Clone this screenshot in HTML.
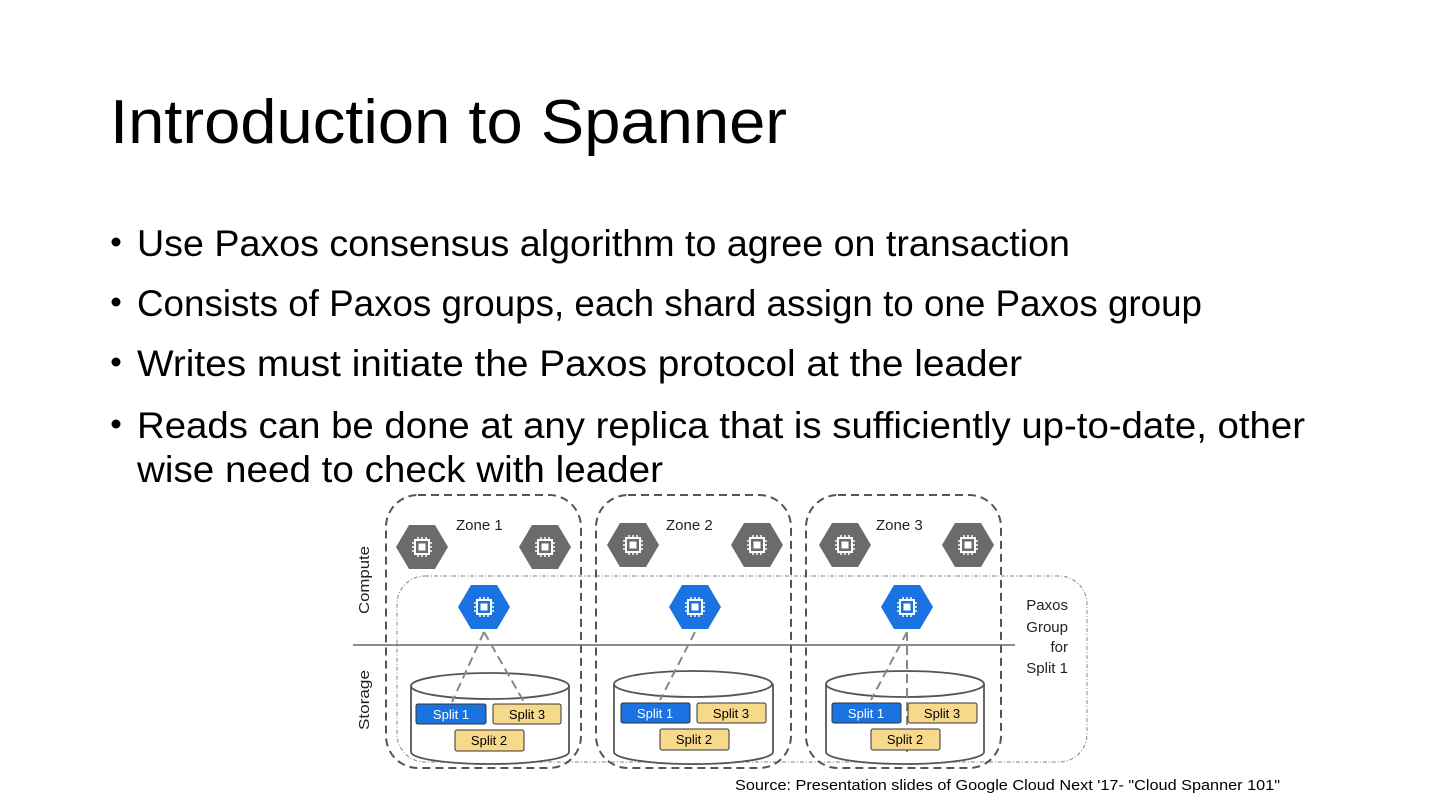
<!DOCTYPE html>
<html><head><meta charset="utf-8"><style>
html,body{margin:0;padding:0;background:#fff;}
svg{display:block;}
</style></head><body>
<svg width="1440" height="810" viewBox="0 0 1440 810" xmlns="http://www.w3.org/2000/svg">
<defs>
<g id="chip">
  <rect x="-7" y="-7" width="14" height="14" fill="none" stroke="#fff" stroke-width="2"/>
  <rect x="-3.5" y="-3.5" width="7" height="7" fill="#fff"/>
  <path d="M-4,-10V-7M0,-10V-7M4,-10V-7M-4,7V10M0,7V10M4,7V10M-10,-4H-7M-10,0H-7M-10,4H-7M7,-4H10M7,0H10M7,4H10" stroke="#fff" stroke-width="1.5"/>
</g>
<g id="hexg"><polygon points="-26,0 -13,-22 13,-22 26,0 13,22 -13,22" fill="#6b6b6b"/><use href="#chip"/></g>
<g id="hexb"><polygon points="-26,0 -13,-22 13,-22 26,0 13,22 -13,22" fill="#1a73e0"/><use href="#chip"/></g>
</defs>

<text x="110" y="143" font-family="Liberation Sans, sans-serif" font-size="62" fill="#000" textLength="677" lengthAdjust="spacingAndGlyphs">Introduction to Spanner</text>

<g font-family="Liberation Sans, sans-serif" font-size="37" fill="#000">
<circle cx="116" cy="242" r="4.5"/>
<text x="137" y="256" textLength="933" lengthAdjust="spacingAndGlyphs">Use Paxos consensus algorithm to agree on transaction</text>
<circle cx="116" cy="302" r="4.5"/>
<text x="137" y="316" textLength="1065" lengthAdjust="spacingAndGlyphs">Consists of Paxos groups, each shard assign to one Paxos group</text>
<circle cx="116" cy="362" r="4.5"/>
<text x="137" y="376" textLength="885" lengthAdjust="spacingAndGlyphs">Writes must initiate the Paxos protocol at the leader</text>
<circle cx="116" cy="424" r="4.5"/>
<text x="137" y="438" textLength="1168" lengthAdjust="spacingAndGlyphs">Reads can be done at any replica that is sufficiently up-to-date, other</text>
<text x="137" y="482" textLength="526" lengthAdjust="spacingAndGlyphs">wise need to check with leader</text>
</g>

<rect x="397" y="576" width="690" height="186" rx="28" fill="none" stroke="#999" stroke-width="1.2" stroke-dasharray="4,2,1,2"/>
<g fill="none" stroke="#555" stroke-width="2" stroke-dasharray="8,5">
<rect x="386" y="495" width="195" height="273" rx="32"/>
<rect x="596" y="495" width="195" height="273" rx="32"/>
<rect x="806" y="495" width="195" height="273" rx="32"/>
</g>
<line x1="353" y1="645" x2="1015" y2="645" stroke="#666" stroke-width="1.5"/>

<g font-family="Liberation Sans, sans-serif" font-size="15" fill="#222">
<text x="456" y="530">Zone 1</text>
<text x="666" y="530">Zone 2</text>
<text x="876" y="530">Zone 3</text>
<text transform="translate(369,614) rotate(-90)" textLength="68" lengthAdjust="spacingAndGlyphs">Compute</text>
<text transform="translate(369,730) rotate(-90)" textLength="60" lengthAdjust="spacingAndGlyphs">Storage</text>
<g text-anchor="end"><text x="1068" y="610">Paxos</text><text x="1068" y="632">Group</text><text x="1068" y="652">for</text><text x="1068" y="673">Split 1</text></g>
</g>

<use href="#hexg" x="422" y="547"/><use href="#hexg" x="545" y="547"/>
<use href="#hexg" x="633" y="545"/><use href="#hexg" x="757" y="545"/>
<use href="#hexg" x="845" y="545"/><use href="#hexg" x="968" y="545"/>
<use href="#hexb" x="484" y="607"/><use href="#hexb" x="695" y="607"/><use href="#hexb" x="907" y="607"/>

<g fill="#fff" stroke="#555" stroke-width="1.8">
<path d="M411,686 V752 A79,12 0 0 0 569,752 V686"/><ellipse cx="490" cy="686" rx="79" ry="13"/>
<path d="M614,684 V752 A79,12 0 0 0 773,752 V684"/><ellipse cx="693" cy="684" rx="79" ry="13"/>
<path d="M826,684 V752 A79,12 0 0 0 984,752 V684"/><ellipse cx="905" cy="684" rx="79" ry="13"/>
</g>
<g stroke="#888" stroke-width="2" stroke-dasharray="9,5" fill="none">
<path d="M484,632 L452,702 M484,632 L524,702"/>
<path d="M695,632 L660,700"/>
<path d="M907,632 L871,700 M907,632 V752"/>
</g>
<g font-family="Liberation Sans, sans-serif" font-size="13" text-anchor="middle">
<g stroke="#333" stroke-width="1">
<rect x="416" y="704" width="70" height="20" rx="2" fill="#1a73e0"/><rect x="493" y="704" width="68" height="20" rx="2" fill="#f7d98b"/><rect x="455" y="730" width="69" height="21" rx="2" fill="#f7d98b"/>
<rect x="621" y="703" width="69" height="20" rx="2" fill="#1a73e0"/><rect x="697" y="703" width="69" height="20" rx="2" fill="#f7d98b"/><rect x="660" y="729" width="69" height="21" rx="2" fill="#f7d98b"/>
<rect x="832" y="703" width="69" height="20" rx="2" fill="#1a73e0"/><rect x="908" y="703" width="69" height="20" rx="2" fill="#f7d98b"/><rect x="871" y="729" width="69" height="21" rx="2" fill="#f7d98b"/>
</g>
<text x="451" y="719" fill="#fff">Split 1</text><text x="527" y="719">Split 3</text><text x="489" y="745">Split 2</text>
<text x="655" y="718" fill="#fff">Split 1</text><text x="731" y="718">Split 3</text><text x="694" y="744">Split 2</text>
<text x="866" y="718" fill="#fff">Split 1</text><text x="942" y="718">Split 3</text><text x="905" y="744">Split 2</text>
</g>

<text x="735" y="790" font-family="Liberation Sans, sans-serif" font-size="15" fill="#000" textLength="545" lengthAdjust="spacingAndGlyphs">Source: Presentation slides of Google Cloud Next '17- "Cloud Spanner 101"</text>
</svg>
</body></html>
